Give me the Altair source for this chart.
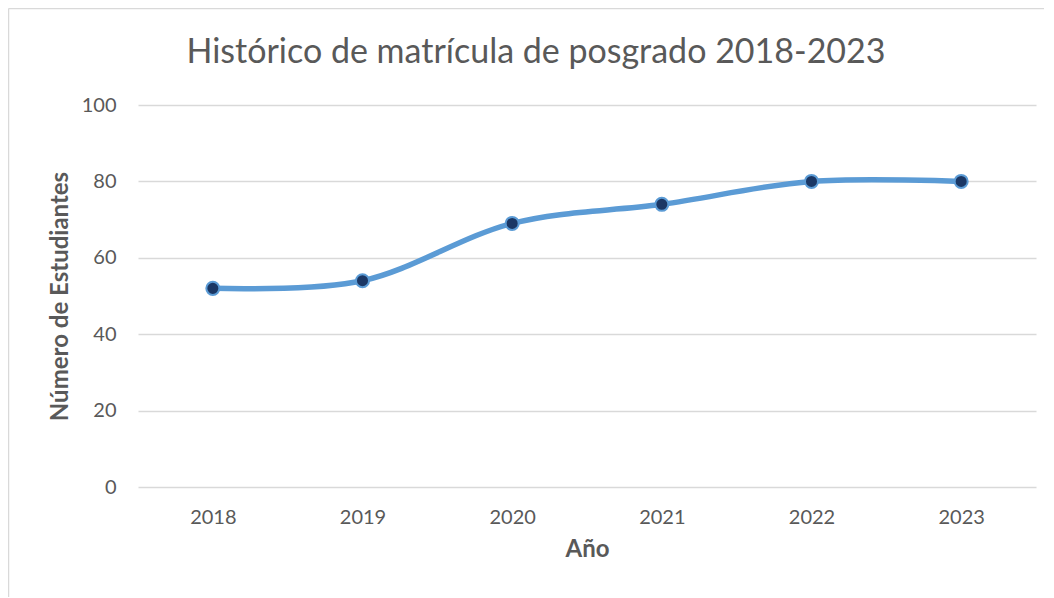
import altair as alt
import pandas as pd

years = ["2018", "2019", "2020", "2021", "2022", "2023"]
students = [52, 54, 69, 74, 80, 80]
title_text = "Histórico de matrícula de posgrado 2018-2023"

df = pd.DataFrame({"Año": years, "Estudiantes": students})

FONT = "Lato"
GREY = "#595959"

x = alt.X("Año:N", sort=years,
          scale=alt.Scale(paddingInner=0, paddingOuter=0.5),
          axis=alt.Axis(title="Año", labelAngle=0, labelFontSize=20, labelColor=GREY,
                        labelFont=FONT, labelPadding=20, ticks=False, domain=False, grid=False,
                        titleFontSize=24, titleFont=FONT, titleColor=GREY, titleFontWeight="bold",
                        titlePadding=10))
y = alt.Y("Estudiantes:Q",
          scale=alt.Scale(domain=[0, 100]),
          axis=alt.Axis(title="Número de Estudiantes", values=[0, 20, 40, 60, 80, 100],
                        labelFontSize=20, labelColor=GREY, labelFont=FONT, labelPadding=22,
                        ticks=False, domain=False, gridColor="#d9d9d9", gridWidth=1.5,
                        titleFontSize=24, titleFont=FONT, titleColor=GREY, titleFontWeight="bold",
                        titlePadding=9))

base = alt.Chart(df)

line = base.mark_line(interpolate="cardinal", color="#5b9bd5", strokeWidth=5.5,
                      strokeCap="round").encode(x=x, y=y)
points = base.mark_point(filled=True, size=170, fill="#1b3764", stroke="#5b9bd5",
                         strokeWidth=2, opacity=1).encode(x=x, y=y)

one = alt.Data(values=[{}])
border_left = alt.Chart(one).mark_rule(color="#d9d9d9", strokeWidth=1.5).encode(
    x=alt.value(-129.5), y=alt.value(-96.5), y2=alt.value(520))
border_top = alt.Chart(one).mark_rule(color="#d9d9d9", strokeWidth=1.5).encode(
    x=alt.value(-129.5), x2=alt.value(920), y=alt.value(-96.5))
title = alt.Chart(alt.Data(values=[{"t": title_text}])).mark_text(
    font=FONT, fontSize=34, color=GREY, align="center", baseline="alphabetic").encode(
    text="t:N", x=alt.value(398), y=alt.value(-42))

chart = alt.layer(border_left, border_top, title, line, points).properties(
    width=898, height=382,
    padding={"left": 130, "top": 97, "right": 8, "bottom": 110},
    autosize=alt.AutoSizeParams(type="none"),
).configure(background="white").configure_view(strokeWidth=0, stroke="transparent")

chart.save("out.html", embed_options={"renderer": "svg", "actions": False})
